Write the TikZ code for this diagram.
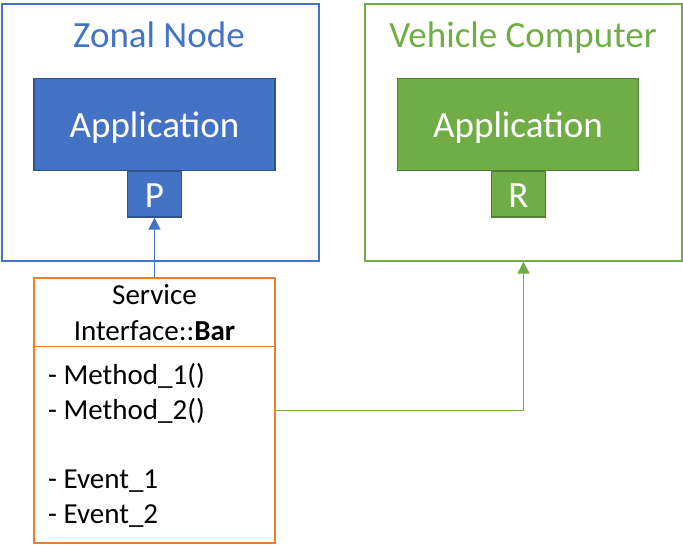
\documentclass[tikz,border=0pt]{standalone}
\usepackage{fontspec}
\setmainfont{Carlito}
\usetikzlibrary{arrows.meta,calc}
\definecolor{zblue}{HTML}{4472C4}
\definecolor{zbluedk}{HTML}{2F528F}
\definecolor{vgreen}{HTML}{70AD47}
\definecolor{vgreendk}{HTML}{507E32}
\definecolor{uorange}{HTML}{ED7D31}
\tikzset{
  outerbox/.style={draw, line width=1.3pt, minimum width=317pt, minimum height=257pt, inner sep=0pt},
  appbox/.style={line width=1.3pt, minimum width=241pt, minimum height=92pt, inner sep=0pt},
  portbox/.style={line width=1.3pt, minimum width=54pt, minimum height=46pt, inner sep=0pt},
  bigtext/.style={text=white, font=\fontsize{37}{44}\selectfont, inner sep=0pt, anchor=base},
  titletext/.style={font=\fontsize{37}{44}\selectfont, inner sep=0pt, anchor=base},
  umltext/.style={font=\fontsize{29}{35}\selectfont, inner sep=0pt},
  conn/.style={line width=1.1pt, -{Triangle[width=12pt,length=12pt]}}
}
\begin{document}
\begin{tikzpicture}[x=1pt,y=-1pt]
\useasboundingbox (0,0) rectangle (683,548);
% outer containers
\node[outerbox, draw=zblue] (zonal) at (160.5,132.5) {};
\node[titletext, text=zblue] (zt) at (159,48) {Zonal Node};
\node[outerbox, draw=vgreen] (vc) at (523.5,132.5) {};
\node[titletext, text=vgreen] (vt) at (523,48) {Vehicle Computer};
% applications
\node[appbox, fill=zblue, draw=zbluedk] (app1) at (154.5,124.5) {};
\node[bigtext] (app1t) at (154.5,138) {Application};
\node[portbox, fill=zblue, draw=zbluedk] (P) at (154.5,194) {};
\node[bigtext] (Pt) at (154.5,208) {P};
\node[appbox, fill=vgreen, draw=vgreendk] (app2) at (518,124.5) {};
\node[bigtext] (app2t) at (518,138) {Application};
\node[portbox, fill=vgreen, draw=vgreendk] (R) at (518.5,194) {};
\node[bigtext] (Rt) at (518.5,208) {R};
% UML box
\node[draw=uorange, line width=1.3pt, minimum width=241pt, minimum height=265pt, inner sep=0pt] (uml) at (154.5,410.5) {};
\draw[uorange, line width=1.3pt] ($(uml.north west)+(0,69)$) -- ($(uml.north east)+(0,69)$);
\node[umltext, anchor=base] (h1) at (154.5,305) {Service};
\node[umltext, anchor=base] (h2) at (154.5,340) {Interface::\textbf{Bar}};
\node[umltext, anchor=base west] (m1) at (48,384) {- Method\_1()};
\node[umltext, anchor=base west] (m2) at (48,419) {- Method\_2()};
\node[umltext, anchor=base west] (e1) at (48,488) {- Event\_1};
\node[umltext, anchor=base west] (e2) at (48,523) {- Event\_2};
% connectors
\draw[conn, zblue] (uml.north) -- (P.south);
\draw[conn, vgreen] (uml.east) -| (vc.south);
\end{tikzpicture}
\end{document}
